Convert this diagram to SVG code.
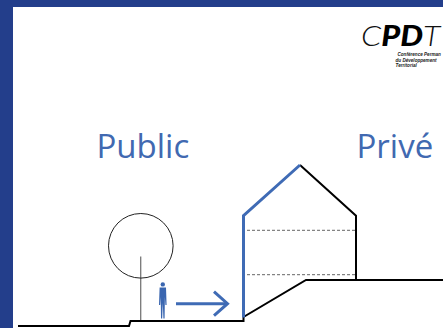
<svg xmlns="http://www.w3.org/2000/svg" width="443" height="328" viewBox="0 0 443 328">
  <style>
    .frame { fill: #233e8b; }
    .label { font-family: "Open Sans", "Noto Sans", "Liberation Sans", sans-serif; font-size: 33px; fill: #4169b1; }
    .ground { fill: none; stroke: #000; stroke-width: 2; stroke-linejoin: miter; }
    .wall-blue { fill: none; stroke: #3f6bb5; stroke-width: 3; stroke-linejoin: miter; }
    .wall-black { fill: none; stroke: #000; stroke-width: 2; }
    .floor { stroke: #666; stroke-width: 1; stroke-dasharray: 3 2; }
    .logo-thin { font-family: Lato, "Liberation Sans", sans-serif; font-style: italic; font-weight: 300; fill: #111; }
    .logo-bold { font-family: Lato, "Liberation Sans", sans-serif; font-style: italic; font-weight: 900; fill: #000; }
    .logo-small { font-family: "Liberation Sans", sans-serif; font-style: italic; font-weight: bold; font-size: 4.6px; fill: #222; }
  </style>

  <!-- page background and blue frame -->
  <rect width="443" height="328" fill="#fff"/>
  <rect class="frame" x="0" y="0" width="443" height="7"/>
  <rect class="frame" x="0" y="0" width="13" height="328"/>

  <!-- logo -->
  <g id="logo">
    <text transform="translate(361 46) scale(1.15 1)" font-size="28"><tspan class="logo-thin">C</tspan><tspan class="logo-bold">PD</tspan><tspan class="logo-thin">T</tspan></text>
    <text class="logo-small" x="397.5" y="56">Conférence Perman</text>
    <text class="logo-small" x="395.5" y="61.5">du Développement</text>
    <text class="logo-small" x="395.5" y="67">Territorial</text>
  </g>

  <!-- headings -->
  <g id="public-label"><text class="label" x="96.5" y="158.3">Public</text></g>
  <g id="prive-label"><text class="label" x="356.5" y="158.3">Privé</text></g>

  <!-- terrain profile -->
  <g id="ground">
    <polyline class="ground" points="18,326 129,326 130.5,321 243.5,321 243.5,317 306,280 443,280"/>
  </g>

  <!-- tree -->
  <g id="tree">
    <line x1="140.7" y1="256.5" x2="140.7" y2="320" stroke="#777" stroke-width="1.3"/>
    <circle cx="140.8" cy="245.8" r="32.3" fill="none" stroke="#222" stroke-width="1"/>
  </g>

  <!-- pedestrian -->
  <g id="person" fill="#3a66b0">
    <circle cx="162.8" cy="284.4" r="2.2"/>
    <path d="M159.6,287.6 L166,287.6 L166.6,305 L165.4,305 L164.9,297 L164.6,318.5 L163.4,318.5 L162.8,303 L162.2,318.5 L161,318.5 L160.7,297 L160.2,305 L159,305 Z"/>
  </g>

  <!-- house -->
  <g id="house">
    <line class="floor" x1="247" y1="230.3" x2="355" y2="230.3"/>
    <line class="floor" x1="247" y1="274.7" x2="355" y2="274.7"/>
    <polyline class="wall-black" points="300,165 356,215.7 356,280"/>
    <polyline class="wall-blue" points="243.5,317.5 243.5,215.7 300,165"/>
  </g>

  <!-- connectors -->
  <g id="connectors">
    <g fill="none" stroke="#3f6bb5" stroke-width="3" stroke-linecap="butt" stroke-linejoin="miter">
      <line x1="176" y1="303.7" x2="227" y2="303.7"/>
      <polyline points="214,291.7 227.5,303.7 214,315.7"/>
    </g>
  </g>
</svg>
